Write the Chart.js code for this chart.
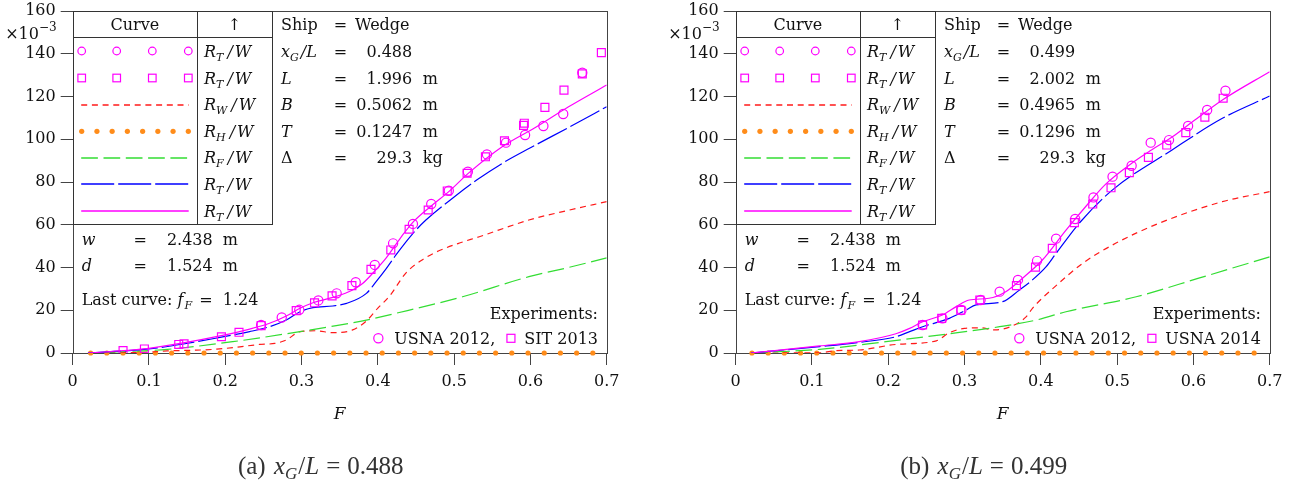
<!DOCTYPE html>
<html><head><meta charset="utf-8">
<script src="https://cdn.jsdelivr.net/npm/chart.js@4.4.0/dist/chart.umd.min.js"></script>
<style>
html,body{margin:0;padding:0;background:#fff;width:1298px;height:490px;overflow:hidden}
canvas{position:absolute;top:0}
#c1{left:0}
#c2{left:663px}
</style></head><body>
<canvas id="c1" width="636" height="490"></canvas>
<canvas id="c2" width="636" height="490"></canvas>
<script>
// ---------- tick labels ----------
const xTicks = [0, 0.1, 0.2, 0.3, 0.4, 0.5, 0.6, 0.7];
const yTicks = [0, 20, 40, 60, 80, 100, 120, 140, 160];

// ---------- panel (a): x_G/L = 0.488 ----------
const aCalcF  = [0.02, 0.05, 0.1, 0.145, 0.193, 0.232, 0.258, 0.28, 0.298, 0.315, 0.341, 0.367, 0.38, 0.395, 0.411, 0.43, 0.445, 0.47, 0.493, 0.52, 0.563, 0.607, 0.65, 0.7];
const aCalcV  = [0, 0.7, 2.2, 4.7, 8.0, 11.2, 13.9, 17.3, 20.9, 23.5, 26.0, 29.5, 32.5, 38.0, 44.5, 54.0, 60.8, 68.8, 75.5, 84.5, 96.5, 105.6, 115.2, 125.4];
const aBlueF  = [0.02, 0.05, 0.1, 0.145, 0.193, 0.232, 0.258, 0.28, 0.298, 0.315, 0.341, 0.359, 0.385, 0.398, 0.411, 0.424, 0.445, 0.463, 0.5, 0.53, 0.563, 0.6, 0.65, 0.7];
const aBlueV  = [0, 0.6, 1.9, 4.2, 7.3, 10.0, 12.3, 15.4, 19.3, 21.2, 22.0, 23.2, 27.9, 33.5, 39.5, 46.0, 55.5, 62.2, 73.0, 81.0, 88.7, 96.0, 105.5, 115.2];
const aRedF   = [0.02, 0.1, 0.124, 0.16, 0.189, 0.219, 0.245, 0.265, 0.28, 0.298, 0.319, 0.341, 0.367, 0.385, 0.40, 0.415, 0.437, 0.46, 0.48, 0.505, 0.533, 0.598, 0.65, 0.7];
const aRedV   = [0, 0.4, 1.0, 1.3, 1.8, 2.9, 4.0, 4.5, 6.1, 10.0, 10.4, 9.5, 10.8, 15.0, 21.0, 26.5, 37.5, 44.0, 47.8, 51.2, 54.4, 62.2, 66.8, 70.8];
const aGreenF = [0.02, 0.065, 0.124, 0.21, 0.298, 0.337, 0.385, 0.424, 0.511, 0.598, 0.65, 0.7];
const aGreenV = [0, 0.6, 1.7, 5.3, 10.0, 12.3, 15.4, 18.6, 26.3, 35.7, 40.0, 44.5];
const aHydF   = [0.0235, 0.7];
const aHydV   = [0, 0];
const aUsnaF  = [0.247, 0.274, 0.297, 0.322, 0.346, 0.371, 0.396, 0.42, 0.446, 0.47, 0.493, 0.518, 0.543, 0.568, 0.593, 0.617, 0.643, 0.668];
const aUsnaV  = [13.1, 16.6, 20.2, 24.6, 27.9, 33.1, 41.2, 51.3, 60.4, 69.7, 75.9, 84.8, 92.9, 98.4, 102.0, 106.2, 111.8, 131.1];
const aSitF   = [0.066, 0.094, 0.139, 0.146, 0.195, 0.218, 0.247, 0.293, 0.317, 0.34, 0.366, 0.391, 0.417, 0.441, 0.466, 0.491, 0.517, 0.541, 0.566, 0.591, 0.592, 0.619, 0.644, 0.668, 0.693];
const aSitV   = [1.1, 1.9, 4.0, 4.3, 7.6, 9.7, 12.8, 19.8, 23.5, 26.7, 31.5, 39.1, 48.2, 57.9, 66.9, 75.8, 84.1, 91.8, 99.3, 106.5, 107.5, 114.9, 123.0, 130.6, 140.5];

// ---------- panel (b): x_G/L = 0.499 ----------
const bCalcF  = [0.02, 0.045, 0.11, 0.162, 0.21, 0.228, 0.245, 0.271, 0.289, 0.306, 0.332, 0.354, 0.376, 0.402, 0.433, 0.46, 0.485, 0.52, 0.545, 0.572, 0.6, 0.638, 0.7];
const bCalcV  = [0, 0.9, 3.3, 5.3, 9.0, 11.5, 14.6, 17.8, 21.7, 24.8, 25.6, 28.7, 35.0, 43.5, 57.5, 69.0, 79.0, 89.0, 95.0, 101.0, 108.5, 118.4, 131.6];
const bBlueF  = [0.02, 0.11, 0.162, 0.21, 0.228, 0.245, 0.28, 0.302, 0.315, 0.35, 0.372, 0.389, 0.407, 0.42, 0.452, 0.494, 0.572, 0.638, 0.7];
const bBlueV  = [0, 3.0, 5.0, 7.6, 10.0, 12.3, 16.2, 20.1, 22.5, 24.0, 29.5, 34.2, 40.4, 46.6, 61.4, 76.3, 95.0, 109.8, 120.2];
const bRedF   = [0.02, 0.11, 0.132, 0.162, 0.21, 0.263, 0.28, 0.3, 0.32, 0.34, 0.36, 0.381, 0.389, 0.42, 0.455, 0.498, 0.555, 0.638, 0.7];
const bRedV   = [0, 0.1, 1.1, 1.4, 4.0, 5.7, 9.5, 11.5, 11.8, 10.8, 12.3, 17.0, 20.9, 31.5, 42.0, 51.3, 60.7, 70.8, 75.5];
const bGreenF = [0.02, 0.11, 0.197, 0.284, 0.346, 0.394, 0.433, 0.525, 0.607, 0.7];
const bGreenV = [0, 1.7, 5.3, 9.2, 12.3, 15.4, 19.3, 26.3, 35.0, 45.0];
const bHydF   = [0.0213, 0.7];
const bHydV   = [0, 0];
const bUsnaF  = [0.245, 0.271, 0.296, 0.321, 0.346, 0.37, 0.395, 0.42, 0.445, 0.469, 0.494, 0.519, 0.544, 0.568, 0.593, 0.618, 0.642];
const bUsnaV  = [13.1, 16.2, 20.1, 24.8, 28.7, 34.2, 43.1, 53.5, 62.7, 72.8, 82.5, 87.6, 98.4, 99.6, 106.2, 113.7, 122.7];
const bU14F   = [0.245, 0.27, 0.295, 0.32, 0.368, 0.393, 0.415, 0.444, 0.468, 0.492, 0.516, 0.541, 0.565, 0.59, 0.615, 0.639];
const bU14V   = [13.1, 16.2, 20.0, 24.8, 31.5, 40.2, 49.0, 61.0, 69.7, 77.3, 84.4, 91.5, 97.3, 103.1, 110.3, 119.2];

// ---------- text ----------
const panelA = {cap:'(a)', xg:'0.488', L:'1.996', B:'0.5062', T:'0.1247', D:'29.3', e1:'USNA 2012,', e2:'SIT 2013'};
const panelB = {cap:'(b)', xg:'0.499', L:'2.002', B:'0.4965', T:'0.1296', D:'29.3', e1:'USNA 2012,', e2:'USNA 2014'};

const C = {mag:'#ff00ff', red:'#ff1a1a', green:'#33dd33', blue:'#0000ff', orange:'#ff8c1a', frame:'#444444', text:'#111111'};
const FN = '"DejaVu Serif", serif';

function pts(xs, ys){ return xs.map((x,i)=>({x:x, y:ys[i]})); }
function fnt(s){
  switch(s){
    case 'i': return 'italic 16px '+FN;
    case 's': return 'italic 11px '+FN;
    case 'u': return '12px '+FN;
    default: return '16px '+FN;
  }
}
function measure(ctx, parts){
  let w=0; for(const p of parts){ ctx.font=p.font||fnt(p.s); w+=ctx.measureText(p.t).width+(p.g||0); } return w;
}
function rich(ctx, parts, x, y, align){
  const w = measure(ctx, parts);
  let cx = align==='right' ? x-w : align==='center' ? x-w/2 : x;
  ctx.textAlign='left'; ctx.textBaseline='alphabetic';
  for(const p of parts){
    ctx.font=p.font||fnt(p.s);
    const dy = p.dy!==undefined ? p.dy : (p.s==='s'?4:(p.s==='u'?-8:0));
    ctx.fillText(p.t, cx, y+dy);
    cx += ctx.measureText(p.t).width+(p.g||0);
  }
  return w;
}
function ratio(sub){ return [{t:'R',s:'i'},{t:sub,s:'s',g:4},{t:'/',s:'i',g:2},{t:'W',s:'i'}]; }

function annot(P){
  return {
    id:'annot',
    beforeDatasetsDraw(chart){
      const ctx=chart.ctx, ca=chart.chartArea;
      const L=ca.left, T=ca.top, R=ca.right, B=ca.bottom;
      ctx.save();
      // frame
      ctx.strokeStyle=C.frame; ctx.lineWidth=1;
      ctx.strokeRect(Math.round(L)+0.5, Math.round(T)+0.5, Math.round(R)-Math.round(L), Math.round(B)-Math.round(T));
      // legend table
      const tw=199.3, th=213, cd=124.3;
      ctx.strokeStyle='#333';
      ctx.strokeRect(Math.round(L)+0.5, Math.round(T)+0.5, Math.round(tw), Math.round(th));
      ctx.beginPath();
      ctx.moveTo(Math.round(L+cd)+0.5, Math.round(T)); ctx.lineTo(Math.round(L+cd)+0.5, Math.round(T+th));
      ctx.moveTo(Math.round(L), Math.round(T+26)+0.5); ctx.lineTo(Math.round(L+tw), Math.round(T+26)+0.5);
      ctx.stroke();
      ctx.fillStyle=C.text;
      const bl=5.5;
      rich(ctx,[{t:'Curve',s:'n'}], L+cd/2, T+13+bl, 'center');
      rich(ctx,[{t:'\u2191',s:'n'}], L+(cd+tw)/2, T+13+bl, 'center');
      const rows=[T+40, T+67, T+93.5, T+120.3, T+146.5, T+173, T+200];
      const subs=['T','T','W','H','F','T','T'];
      rows.forEach((ry,i)=>{ ctx.fillStyle=C.text; rich(ctx, ratio(subs[i]), L+131.3, ry+bl, 'left'); });
      const x0=L+8.5, x1=L+116;
      const mx=[L+9, L+44, L+79.6, L+115.6];
      ctx.lineWidth=1.2;
      ctx.strokeStyle=C.mag;
      mx.forEach(x=>{ ctx.beginPath(); ctx.arc(x, rows[0], 3.8, 0, Math.PI*2); ctx.stroke(); });
      mx.forEach(x=>{ ctx.strokeRect(x-3.8, rows[1]-3.8, 7.6, 7.6); });
      function seg(y,color,dash,w){ const yy=Math.round(y); ctx.strokeStyle=color; ctx.lineWidth=w||1.3; ctx.setLineDash(dash); ctx.beginPath(); ctx.moveTo(x0,yy); ctx.lineTo(x1,yy); ctx.stroke(); ctx.setLineDash([]); }
      seg(rows[2], C.red, [6,4.7]);
      ctx.fillStyle=C.orange;
      for(let k=0;k<8;k++){ ctx.beginPath(); ctx.arc(L+9+k*15.23, rows[3], 2.6, 0, Math.PI*2); ctx.fill(); }
      seg(rows[4], C.green, [16.7,5.6]);
      seg(rows[5], C.blue, [33,4]);
      seg(rows[6], C.mag, []);
      // ship block
      ctx.fillStyle=C.text;
      const lx=L+208.3, ex=L+267.8, vx=L+339.5, ux=L+350, wx=L+282.3;
      const srows=[T+13, T+40, T+67, T+93.5, T+120.3, T+146.5];
      rich(ctx,[{t:'Ship',s:'n'}], lx, srows[0]+bl);
      rich(ctx,[{t:'Wedge',s:'n'}], wx, srows[0]+bl);
      rich(ctx,[{t:'x',s:'i'},{t:'G',s:'s',g:2},{t:'/L',s:'i'}], lx, srows[1]+bl);
      rich(ctx,[{t:'L',s:'i'}], lx, srows[2]+bl);
      rich(ctx,[{t:'B',s:'i'}], lx, srows[3]+bl);
      rich(ctx,[{t:'T',s:'i'}], lx, srows[4]+bl);
      rich(ctx,[{t:'\u0394',s:'n'}], lx, srows[5]+bl);
      srows.forEach(ry=>rich(ctx,[{t:'=',s:'n'}], ex, ry+bl, 'center'));
      const vals=[P.xg, P.L, P.B, P.T, P.D];
      const units=['', 'm', 'm', 'm', 'kg'];
      vals.forEach((v,i)=>{ rich(ctx,[{t:v,s:'n'}], vx, srows[i+1]+bl, 'right'); if(units[i]) rich(ctx,[{t:units[i],s:'n'}], ux, srows[i+1]+bl); });
      // w, d, last curve
      rich(ctx,[{t:'w',s:'i'}], L+9, T+228+bl);
      rich(ctx,[{t:'=',s:'n'}], L+67.5, T+228+bl, 'center');
      rich(ctx,[{t:'2.438',s:'n'}], L+140, T+228+bl, 'right');
      rich(ctx,[{t:'m',s:'n'}], L+150, T+228+bl);
      rich(ctx,[{t:'d',s:'i'}], L+9, T+254+bl);
      rich(ctx,[{t:'=',s:'n'}], L+67.5, T+254+bl, 'center');
      rich(ctx,[{t:'1.524',s:'n'}], L+140, T+254+bl, 'right');
      rich(ctx,[{t:'m',s:'n'}], L+150, T+254+bl);
      rich(ctx,[{t:'Last curve: ',s:'n'},{t:'f',s:'i',g:1},{t:'F',s:'s',g:2},{t:' =  1.24',s:'n'}], L+9, T+288+bl);
      // experiments
      rich(ctx,[{t:'Experiments:',s:'n'}], R-8.7, T+302+bl, 'right');
      const ey=T+327.3;
      const w2 = measure(ctx,[{t:P.e2,s:'n'}]);
      const w1 = measure(ctx,[{t:P.e1,s:'n'}]);
      const t2x = R-8.7-w2; const sqx = t2x-13.3; const t1x = sqx-15.7-w1; const cix = t1x-16;
      rich(ctx,[{t:P.e2,s:'n'}], t2x, ey+bl);
      rich(ctx,[{t:P.e1,s:'n'}], t1x, ey+bl);
      ctx.strokeStyle=C.mag; ctx.lineWidth=1.2;
      ctx.beginPath(); ctx.arc(cix, ey, 4.6, 0, Math.PI*2); ctx.stroke();
      ctx.strokeRect(sqx-4, ey-4, 8, 8);
      // multiplier
      ctx.fillStyle=C.text;
      rich(ctx,[{t:'\u00d710',s:'n'},{t:'\u22123',s:'u',dy:-8}], L-67.5, 39);
      // axis title
      rich(ctx,[{t:'F',font:'italic 17px '+FN}], (L+R)/2, 419, 'center');
      // caption
      ctx.fillStyle='#333';
      const CF='"Liberation Serif", serif';
      rich(ctx,[{t:P.cap+' ',font:'25px '+CF,g:2},{t:'x',font:'italic 25px '+CF},{t:'G',font:'italic 17px '+CF,dy:5,g:1},{t:'/',font:'25px '+CF},{t:'L',font:'italic 25px '+CF,g:7},{t:'=',font:'25px '+CF,g:7},{t:P.xg,font:'25px '+CF}], (L+R)/2-19, 474, 'center');
      ctx.restore();
    }
  };
}

function makeChart(id, P, D){
  const ds = [
    {label:'exp1', data:pts(D.u1F,D.u1V), showLine:false, pointStyle:'circle', pointRadius:4.6, pointBorderWidth:1.2, borderColor:C.mag, backgroundColor:'rgba(0,0,0,0)'},
    {label:'exp2', data:pts(D.u2F,D.u2V), showLine:false, pointStyle:'rect', pointRadius:5.6, pointBorderWidth:1.2, borderColor:C.mag, backgroundColor:'rgba(0,0,0,0)'},
    {label:'calc', data:pts(D.cF,D.cV), showLine:true, pointRadius:0, borderColor:C.mag, borderWidth:1.2, cubicInterpolationMode:'monotone'},
    {label:'blue', data:pts(D.bF,D.bV), showLine:true, pointRadius:0, borderColor:C.blue, borderWidth:1.2, borderDash:[33,4], cubicInterpolationMode:'monotone'},
    {label:'green', data:pts(D.gF,D.gV), showLine:true, pointRadius:0, borderColor:C.green, borderWidth:1.2, borderDash:[16.7,5.6], cubicInterpolationMode:'monotone'},
    {label:'red', data:pts(D.rF,D.rV), showLine:true, pointRadius:0, borderColor:C.red, borderWidth:1.2, borderDash:[6,4.7], cubicInterpolationMode:'monotone'},
    {label:'hyd', data:pts(D.hF,D.hV), showLine:true, pointRadius:0, borderColor:C.orange, borderWidth:5.2, borderDash:[0,16.2], borderCapStyle:'round', clip:6}
  ];
  const tickFont={family:'DejaVu Serif', size:16};
  return new Chart(document.getElementById(id), {
    type:'scatter',
    data:{datasets:ds},
    options:{
      responsive:false, animation:false, devicePixelRatio:1,
      layout:{padding:{top:11, right:29.3, left:0, bottom:0}},
      plugins:{legend:{display:false}, tooltip:{enabled:false}},
      scales:{
        x:{type:'linear', min:0, max:0.7,
          afterBuildTicks:s=>{ s.ticks = xTicks.map(v=>({value:v})); },
          afterFit:s=>{ s.height=137; s.paddingLeft=0; s.paddingRight=0; },
          ticks:{font:tickFont, color:C.text, padding:7, maxRotation:0, autoSkip:false, callback:v=> v===0?'0':v.toFixed(1)},
          grid:{drawOnChartArea:false, drawTicks:true, tickLength:12, color:C.frame, lineWidth:1},
          border:{display:false}
        },
        y:{type:'linear', min:0, max:160,
          afterBuildTicks:s=>{ s.ticks = yTicks.map(v=>({value:v})); },
          afterFit:s=>{ s.width=72.7; s.paddingTop=0; s.paddingBottom=0; },
          ticks:{font:tickFont, color:C.text, padding:5, autoSkip:false, callback:v=>String(v)},
          grid:{drawOnChartArea:false, drawTicks:true, tickLength:12, color:C.frame, lineWidth:1},
          border:{display:false}
        }
      }
    },
    plugins:[annot(P)]
  });
}

makeChart('c1', panelA, {u1F:aUsnaF,u1V:aUsnaV,u2F:aSitF,u2V:aSitV,cF:aCalcF,cV:aCalcV,bF:aBlueF,bV:aBlueV,gF:aGreenF,gV:aGreenV,rF:aRedF,rV:aRedV,hF:aHydF,hV:aHydV});
makeChart('c2', panelB, {u1F:bUsnaF,u1V:bUsnaV,u2F:bU14F,u2V:bU14V,cF:bCalcF,cV:bCalcV,bF:bBlueF,bV:bBlueV,gF:bGreenF,gV:bGreenV,rF:bRedF,rV:bRedV,hF:bHydF,hV:bHydV});
</script>
</body></html>
